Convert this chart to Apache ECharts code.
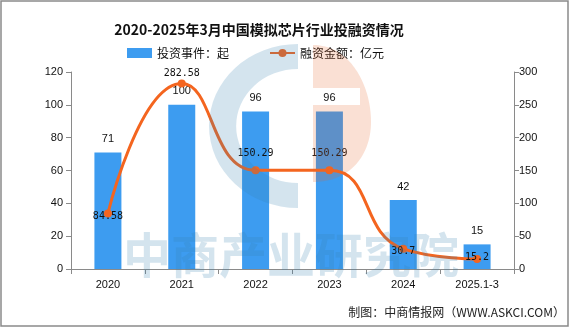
<!DOCTYPE html>
<html>
<head>
<meta charset="utf-8">
<script src="https://cdn.jsdelivr.net/npm/echarts@6/dist/echarts.min.js"></script>
<style>
  html, body { margin: 0; padding: 0; background: #fff; }
  #chart { width: 581px; height: 327px; }
</style>
</head>
<body>
<div id="chart"></div>
<script>
// Investment & financing in China's analog chip industry, 2020 – Mar 2025
const categories = ['2020', '2021', '2022', '2023', '2024', '2025.1-3'];
const investEvents = [71, 100, 96, 96, 42, 15];            // 投资事件（起）
const financingAmount = [84.58, 282.58, 150.29, 150.29, 30.7, 15.2]; // 融资金额（亿元）
const leftAxisTicks = [0, 20, 40, 60, 80, 100, 120];
const rightAxisTicks = [0, 50, 100, 150, 200, 250, 300];

const seriesNames = ['投资事件：起', '融资金额：亿元'];
const titleText = '2020-2025年3月中国模拟芯片行业投融资情况';
const sourceText = '制图：中商情报网（WWW.ASKCI.COM）';
const watermarkText = '中商产业研究院';

// Where each amount label sits relative to its point
const amountLabelPlacement = [
  { position: 'inside', offset: [0, 3] },
  { position: 'top', distance: 1 },
  { position: 'top', distance: 8 },
  { position: 'top', distance: 8 },
  { position: 'inside', offset: [0, 3] },
  { position: 'inside', offset: [0, -2] }
];

const BAR_COLOR = '#3d9cf0';
const LINE_COLOR = '#f4651f';
const AXIS_COLOR = '#8a8a8a';
const TEXT_FONT = '"Liberation Sans", Arial, sans-serif';
const CJK_FONT = '"Noto Sans CJK SC", sans-serif';
const WM_BLUE = 'rgba(50,126,174,0.21)';
const WM_ORANGE = 'rgba(231,98,40,0.2)';

// Sample a cubic Bezier into polygon points
function cubic(p0, p1, p2, p3, steps) {
  const pts = [];
  for (let i = 0; i <= steps; i++) {
    const t = i / steps, u = 1 - t;
    pts.push([
      u * u * u * p0[0] + 3 * u * u * t * p1[0] + 3 * u * t * t * p2[0] + t * t * t * p3[0],
      u * u * u * p0[1] + 3 * u * u * t * p1[1] + 3 * u * t * t * p2[1] + t * t * t * p3[1]
    ]);
  }
  return pts;
}

// Orange half of the logo: rounded right side, a horizontal notch near the top
function logoOrangePoints() {
  const outline = cubic([313, 45], [350, 45], [371, 85], [371, 122], 40)
    .concat(cubic([371, 122], [371, 155], [350, 182], [313, 182], 40).slice(1));
  const gapTop = 88, gapBottom = 105, gapRight = 360;
  const pts = outline.slice();
  pts.push([313, gapBottom], [gapRight, gapBottom], [gapRight, gapTop], [313, gapTop]);
  return pts;
}

const chart = echarts.init(document.getElementById('chart'), null, { renderer: 'canvas' });

const axisCommon = {
  axisLine: { show: true, lineStyle: { color: AXIS_COLOR, width: 1 } },
  axisTick: { show: true, length: 5, lineStyle: { color: AXIS_COLOR } },
  splitLine: { show: false },
  axisLabel: { color: '#111', fontSize: 11, fontFamily: TEXT_FONT }
};

const option = {
  animation: false,
  backgroundColor: '#ffffff',
  title: {
    text: titleText,
    left: 259,
    textAlign: 'center',
    top: 23,
    padding: 0,
    textStyle: { fontSize: 14, fontWeight: 'bold', color: '#111', fontFamily: CJK_FONT }
  },
  legend: {
    left: 127,
    top: 47,
    padding: 0,
    itemWidth: 25,
    itemHeight: 10,
    itemGap: 40,
    textStyle: { fontSize: 12, color: '#111', fontFamily: CJK_FONT },
    data: [
      { name: seriesNames[0], icon: 'rect' },
      { name: seriesNames[1] }
    ]
  },
  grid: { left: 71, right: 67, top: 72, bottom: 58, containLabel: false },
  xAxis: {
    type: 'category',
    data: categories,
    boundaryGap: true,
    axisLine: { show: true, lineStyle: { color: AXIS_COLOR, width: 1 } },
    axisTick: { show: true, length: 5, lineStyle: { color: AXIS_COLOR } },
    axisLabel: { color: '#111', fontSize: 11, fontFamily: TEXT_FONT, margin: 10 }
  },
  yAxis: [
    Object.assign({}, axisCommon, {
      type: 'value',
      min: leftAxisTicks[0],
      max: leftAxisTicks[leftAxisTicks.length - 1],
      interval: leftAxisTicks[1] - leftAxisTicks[0],
      position: 'left',
      axisLabel: Object.assign({}, axisCommon.axisLabel, { margin: 8 })
    }),
    Object.assign({}, axisCommon, {
      type: 'value',
      min: rightAxisTicks[0],
      max: rightAxisTicks[rightAxisTicks.length - 1],
      interval: rightAxisTicks[1] - rightAxisTicks[0],
      position: 'right',
      axisLabel: Object.assign({}, axisCommon.axisLabel, { margin: 5 })
    })
  ],
  series: [
    {
      name: seriesNames[0],
      type: 'bar',
      yAxisIndex: 0,
      data: investEvents,
      barWidth: 27,
      itemStyle: { color: BAR_COLOR },
      label: {
        show: true,
        position: 'top',
        distance: 8,
        color: '#111',
        fontSize: 11,
        fontFamily: TEXT_FONT
      },
      z: 2
    },
    {
      name: seriesNames[1],
      type: 'line',
      yAxisIndex: 1,
      smooth: 0.5,
      symbol: 'circle',
      symbolSize: 8,
      lineStyle: { color: LINE_COLOR, width: 3 },
      itemStyle: { color: LINE_COLOR },
      label: {
        show: true,
        color: '#111',
        fontSize: 10,
        fontFamily: '"DejaVu Sans Mono", monospace'
      },
      data: financingAmount.map((v, i) => ({ value: v, label: amountLabelPlacement[i] })),
      z: 3
    }
  ],
  graphic: [
    // outer frame
    {
      type: 'rect',
      shape: { x: 1, y: 1, width: 567, height: 325 },
      style: { fill: 'none', stroke: '#8a8a8a', lineWidth: 1.5 },
      silent: true,
      z: 0
    },
    // logo: blue half ring
    {
      type: 'sector',
      shape: { cx: 298, cy: 126, r: 82, r0: 57, startAngle: Math.PI / 2, endAngle: Math.PI * 3 / 2 },
      originX: 298,
      originY: 126,
      scaleX: 1.085,
      style: { fill: WM_BLUE },
      silent: true,
      z: 10
    },
    // logo: orange part
    {
      type: 'polygon',
      shape: { points: logoOrangePoints() },
      style: { fill: WM_ORANGE },
      silent: true,
      z: 10
    },
    // watermark text
    {
      type: 'text',
      x: 291,
      y: 255,
      style: {
        text: watermarkText,
        fill: WM_BLUE,
        font: 'bold 48px ' + CJK_FONT,
        textAlign: 'center',
        textVerticalAlign: 'middle'
      },
      silent: true,
      z: 10
    },
    // source note
    {
      type: 'text',
      x: 565,
      y: 312,
      style: {
        text: sourceText,
        fill: '#222',
        font: '12px ' + CJK_FONT,
        textAlign: 'right',
        textVerticalAlign: 'middle'
      },
      silent: true,
      z: 10
    }
  ]
};

chart.setOption(option);
</script>
</body>
</html>
